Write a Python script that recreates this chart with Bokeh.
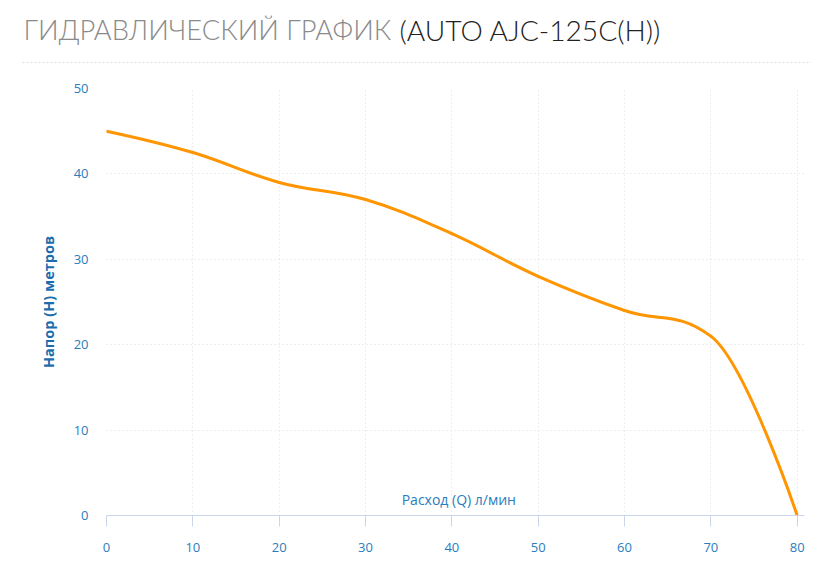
from bokeh.plotting import figure
from bokeh.layouts import column
from bokeh.models import Range1d, Label, FixedTicker, ColumnDataSource
from bokeh.core.properties import value
from bokeh.embed import file_html
from bokeh.resources import INLINE

# ---- data ----
title_main = "ГИДРАВЛИЧЕСКИЙ ГРАФИК"
title_model = "(AUTO AJC-125C(H))"
x_title = "Расход (Q) л/мин"
y_title = "Напор (H) метров"
flow = [0, 10, 20, 30, 40, 50, 60, 70, 80]
head = [45, 42.5, 39, 37, 33, 28, 24, 21, 0]
x_ticks = [0, 10, 20, 30, 40, 50, 60, 70, 80]
y_ticks = [0, 10, 20, 30, 40, 50]

LINE = "#ff9500"
TICK_BLUE = "#2a7dbd"
LABEL_BLUE = "#1b6dae"
GRID = "#dcdcdc"
AXIS = "#ccd6eb"

W = 811
TITLE_H = 70
MAIN_H = 501


def spline_controls(xs, ys, smoothing=1.5):
    """Highcharts-style spline control points (same rule as its 'spline' series)."""
    n = len(xs)
    denom = smoothing + 1
    lc = [(xs[i], ys[i]) for i in range(n)]
    rc = [(xs[i], ys[i]) for i in range(n)]
    for i in range(1, n - 1):
        px, py = xs[i], ys[i]
        lx, ly = xs[i - 1], ys[i - 1]
        nx, ny = xs[i + 1], ys[i + 1]
        lcx = (smoothing * px + lx) / denom
        lcy = (smoothing * py + ly) / denom
        rcx = (smoothing * px + nx) / denom
        rcy = (smoothing * py + ny) / denom
        if rcx != lcx:
            corr = (rcy - lcy) * (rcx - px) / (rcx - lcx) + py - rcy
            lcy += corr
            rcy += corr
            if lcy > ly and lcy > py:
                lcy = max(ly, py)
                rcy = 2 * py - lcy
            elif lcy < ly and lcy < py:
                lcy = min(ly, py)
                rcy = 2 * py - lcy
            if rcy > ny and rcy > py:
                rcy = max(ny, py)
                lcy = 2 * py - rcy
            elif rcy < ny and rcy < py:
                rcy = min(ny, py)
                lcy = 2 * py - rcy
        lc[i] = (lcx, lcy)
        rc[i] = (rcx, rcy)
    seg = dict(x0=[], y0=[], x1=[], y1=[], cx0=[], cy0=[], cx1=[], cy1=[])
    for i in range(n - 1):
        seg["x0"].append(xs[i]); seg["y0"].append(ys[i])
        seg["x1"].append(xs[i + 1]); seg["y1"].append(ys[i + 1])
        seg["cx0"].append(rc[i][0]); seg["cy0"].append(rc[i][1])
        seg["cx1"].append(lc[i + 1][0]); seg["cy1"].append(lc[i + 1][1])
    return seg


# ---------- title strip ----------
t = figure(width=W, height=TITLE_H, output_backend="svg", toolbar_location=None,
           x_range=Range1d(0, W), y_range=Range1d(TITLE_H, 0),
           x_axis_location=None, y_axis_location=None,
           min_border=0, min_border_left=0, min_border_right=0,
           min_border_top=0, min_border_bottom=0)
t.title.visible = False
t.grid.visible = False
t.outline_line_color = None
t.background_fill_color = "white"
t.border_fill_color = "white"
t.text(x=[23], y=[29], text=[title_main], text_align="left", text_baseline="alphabetic",
       text_color="#8a8a8a", text_font=value("Lato Light"), text_font_size="27.3px")
t.text(x=[399], y=[29], text=[title_model], text_align="left", text_baseline="alphabetic",
       text_color="#222222", text_font=value("Lato Light"), text_font_size="28.2px")
t.segment(x0=[22], y0=[62], x1=[W], y1=[62], line_color="#dddddd",
          line_dash="2 2", line_width=1)

# ---------- main chart ----------
p = figure(width=W, height=MAIN_H, output_backend="svg", toolbar_location=None,
           x_range=Range1d(0, 80.85), y_range=Range1d(0, 50),
           min_border_left=106, min_border_right=7, min_border_top=18, min_border_bottom=56)
p.outline_line_color = None
p.background_fill_color = "white"
p.border_fill_color = "white"

for fig in (t, p):
    try:
        fig.frame_align = False
    except Exception:
        pass

p.xgrid.ticker = FixedTicker(ticks=x_ticks)
p.ygrid.ticker = FixedTicker(ticks=y_ticks)
for g in (p.xgrid, p.ygrid):
    g.grid_line_color = GRID
    g.grid_line_dash = "1 3"
    g.grid_line_width = 1

xa = p.xaxis[0]
xa.ticker = FixedTicker(ticks=x_ticks)
xa.axis_line_color = AXIS
xa.major_tick_line_color = AXIS
xa.major_tick_in = 0
xa.major_tick_out = 11
xa.minor_tick_line_color = None
xa.major_label_standoff = 16
xa.major_label_text_color = TICK_BLUE
xa.major_label_text_font = "Open Sans"
xa.major_label_text_font_size = "13px"

ya = p.yaxis[0]
ya.ticker = FixedTicker(ticks=y_ticks)
ya.axis_line_color = None
ya.major_tick_line_color = None
ya.minor_tick_line_color = None
ya.major_tick_in = 0
ya.major_tick_out = 0
ya.major_label_standoff = 18
ya.major_label_text_color = TICK_BLUE
ya.major_label_text_font = "Open Sans"
ya.major_label_text_font_size = "13px"
ya.axis_label = y_title
ya.axis_label_text_color = LABEL_BLUE
ya.axis_label_text_font = "Open Sans"
ya.axis_label_text_font_style = "bold"
ya.axis_label_text_font_size = "14.5px"
ya.axis_label_standoff = 13

src = ColumnDataSource(spline_controls(flow, head))
p.bezier(x0="x0", y0="y0", x1="x1", y1="y1", cx0="cx0", cy0="cy0", cx1="cx1", cy1="cy1",
         source=src, line_color=LINE, line_width=3, line_cap="round")

p.add_layout(Label(x=40, y=0, x_offset=7, y_offset=16, text=x_title,
                   text_align="center", text_baseline="middle",
                   text_color=TICK_BLUE, text_font="Open Sans", text_font_size="14px"))

layout = column(t, p, spacing=0)
open("out.html", "w").write(file_html(layout, INLINE))
